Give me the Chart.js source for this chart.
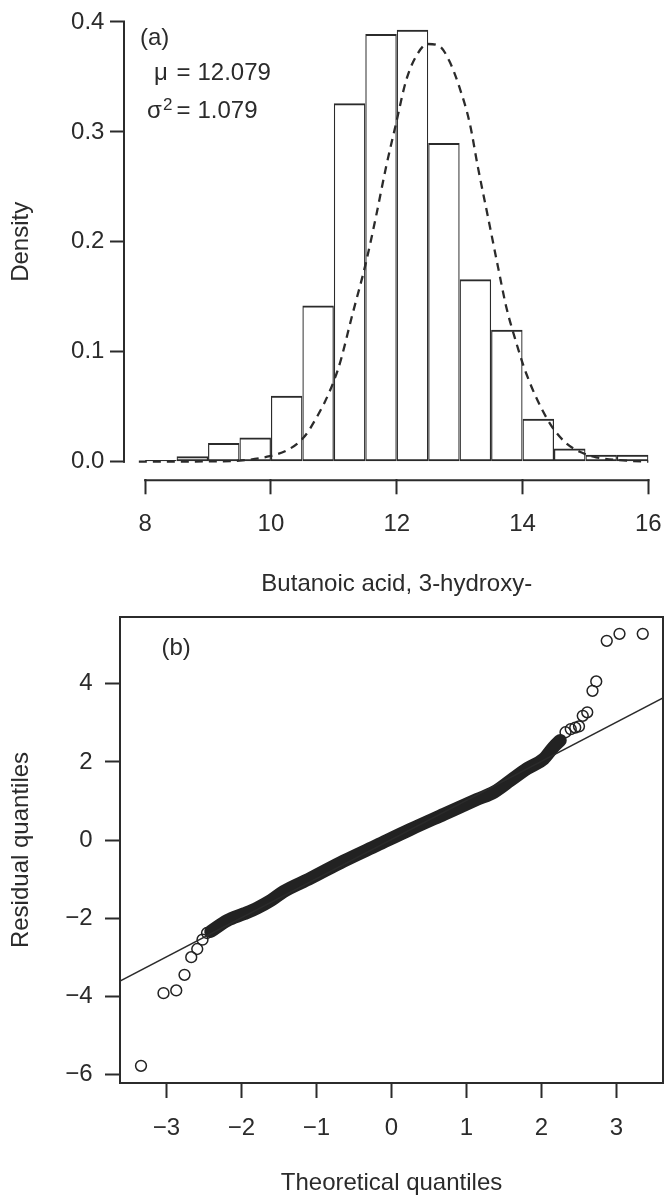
<!DOCTYPE html>
<html>
<head>
<meta charset="utf-8">
<title>Butanoic acid, 3-hydroxy-</title>
<script src="https://cdn.jsdelivr.net/npm/chart.js@4.4.1/dist/chart.umd.min.js"></script>
<style>
  html, body { margin: 0; padding: 0; background: #fff; }
  canvas { position: absolute; left: 0; }
</style>
</head>
<body>
<canvas id="histChart" width="670" height="600" style="top:0"></canvas>
<canvas id="qqChart" width="670" height="598" style="top:600px"></canvas>
<script>
// ---- (a) histogram of Butanoic acid, 3-hydroxy- ----
const binStarts = [8, 8.5, 9, 9.5, 10, 10.5, 11, 11.5, 12, 12.5, 13, 13.5, 14, 14.5, 15, 15.5];
const binWidth = 0.5;
const densities = [0.0015, 0.005, 0.017, 0.022, 0.060, 0.142, 0.326, 0.389, 0.393, 0.290, 0.166, 0.120, 0.039, 0.012, 0.0064, 0.0064];

// dashed fitted density curve
const curveX = [7.9, 8.5, 9.0, 9.5, 9.98, 10.24, 10.45, 10.61, 11.06, 11.30, 11.51, 11.67, 11.83, 11.99, 12.15, 12.31, 12.49,
                12.68, 12.84, 13.00, 13.16, 13.29, 13.47, 13.61, 13.74, 13.87, 14.06, 14.40, 14.67, 14.91, 15.17, 15.65, 16.0];
const curveY = [0, 0, 0.0003, 0.001, 0.005, 0.010, 0.018, 0.029, 0.083, 0.135, 0.181, 0.223, 0.268, 0.308, 0.347, 0.369, 0.380,
                0.378, 0.364, 0.340, 0.308, 0.268, 0.217, 0.177, 0.141, 0.114, 0.080, 0.038, 0.018, 0.009, 0.004, 0.001, 0];

const histXTicks = [8, 10, 12, 14, 16];
const histYTicks = [0, 0.1, 0.2, 0.3, 0.4];
const muText = '12.079';
const sigma2Text = '1.079';

// ---- (b) normal QQ plot of residuals ----
// dense middle of the sample, drawn as one heavy stroke
const bandX = [-2.41, -2.19, -1.97, -1.79, -1.61, -1.44, -1.08, -0.64, -0.19, 0.25, 0.70, 1.14, 1.37, 1.59, 1.81, 2.03, 2.16, 2.25];
const bandY = [-2.34, -2.06, -1.89, -1.74, -1.55, -1.32, -0.98, -0.54, -0.13, 0.27, 0.66, 1.04, 1.23, 1.53, 1.83, 2.08, 2.38, 2.55];
// separate points in both tails
const tailX = [-3.34, -3.04, -2.87, -2.76, -2.67, -2.59, -2.52, -2.46, 2.32, 2.39, 2.45, 2.50, 2.55, 2.61, 2.68, 2.73, 2.87, 3.04, 3.35];
const tailY = [-5.78, -3.92, -3.85, -3.45, -3.00, -2.79, -2.55, -2.38, 2.76, 2.84, 2.88, 2.91, 3.18, 3.27, 3.82, 4.06, 5.10, 5.28, 5.28];
// reference line
const qqLineX = [-3.62, 3.62];
const qqLineY = [-3.61, 3.64];

const qqXTicks = [-3, -2, -1, 0, 1, 2, 3];
const qqYTicks = [-6, -4, -2, 0, 2, 4];

// ---- shared look ----
const INK = '#2b2b2b';
const FONT = '"Liberation Sans", Arial, Helvetica, sans-serif';
Chart.defaults.font.family = FONT;
Chart.defaults.font.size = 24;
Chart.defaults.color = INK;
Chart.defaults.animation = false;
Chart.defaults.plugins.legend.display = false;
Chart.defaults.plugins.tooltip.enabled = false;

const minus = v => (v < 0 ? '\u2212' + Math.abs(v) : String(v));
const useTicks = values => scale => { scale.ticks = values.map(v => ({ value: v })); };
// fixed axis box size, no extra label overhang padding
const fixSize = (prop, px) => scale => {
  scale[prop] = px;
  scale.paddingTop = scale.paddingBottom = scale.paddingLeft = scale.paddingRight = 0;
};

function axisOpts(extra) {
  return Object.assign({
    type: 'linear',
    offset: false,
    border: { display: false },
    grid: { display: true, offset: false, drawOnChartArea: false, drawTicks: true, tickLength: 15, tickWidth: 2, tickColor: INK },
  }, extra);
}

// axis lines running only between the outer ticks
const histAxes = {
  id: 'histAxes',
  afterDraw(chart) {
    const { ctx, chartArea, scales: { x, y } } = chart;
    ctx.save();
    ctx.strokeStyle = INK;
    ctx.lineWidth = 2;
    ctx.beginPath();
    ctx.moveTo(x.getPixelForValue(histXTicks[0]) - 1, chartArea.bottom + 1);
    ctx.lineTo(x.getPixelForValue(histXTicks[histXTicks.length - 1]) + 1, chartArea.bottom + 1);
    ctx.moveTo(chartArea.left - 1, y.getPixelForValue(histYTicks[0]) + 1);
    ctx.lineTo(chartArea.left - 1, y.getPixelForValue(histYTicks[histYTicks.length - 1]) - 1);
    ctx.stroke();

    ctx.fillStyle = INK;
    ctx.textBaseline = 'alphabetic';
    ctx.textAlign = 'left';
    ctx.font = '24px ' + FONT;
    ctx.fillText('(a)', 140, 45);
    ctx.fillText('\u03bc', 154, 80);
    ctx.fillText('=', 176.5, 80);
    ctx.fillText(muText, 197.5, 80);
    ctx.fillText('\u03c3', 147, 118);
    ctx.fillText('=', 176.5, 118);
    ctx.fillText(sigma2Text, 197.5, 118);
    ctx.font = '17px ' + FONT;
    ctx.fillText('2', 163, 110);
    ctx.restore();
  }
};

const qqFrame = {
  id: 'qqFrame',
  afterDraw(chart) {
    const { ctx, chartArea: a } = chart;
    ctx.save();
    ctx.strokeStyle = INK;
    ctx.lineWidth = 2;
    ctx.strokeRect(a.left, a.top, a.right - a.left, a.bottom - a.top);
    ctx.fillStyle = INK;
    ctx.font = '24px ' + FONT;
    ctx.textBaseline = 'alphabetic';
    ctx.fillText('(b)', 161.5, 55);
    ctx.restore();
  }
};

new Chart(document.getElementById('histChart'), {
  type: 'bar',
  data: {
    datasets: [
      {
        type: 'line',
        data: curveX.map((x, i) => ({ x, y: curveY[i] })),
        borderColor: INK,
        borderWidth: 2.3,
        borderDash: [8, 6],
        cubicInterpolationMode: 'monotone',
        pointRadius: 0,
        fill: false,
        order: 1
      },
      {
        type: 'bar',
        data: binStarts.map((s, i) => ({ x: s + binWidth / 2, y: densities[i] })),
        backgroundColor: 'rgba(0,0,0,0)',
        borderColor: INK,
        borderWidth: { top: 2, left: 1.2, right: 1.2, bottom: 2 },
        borderSkipped: false,
        inflateAmount: 0,
        barPercentage: 1,
        categoryPercentage: 1,
        order: 2
      }
    ]
  },
  options: {
    responsive: false,
    devicePixelRatio: 1,
    layout: { padding: { top: 4.4, right: 1.5, left: 0, bottom: 0 } },
    scales: {
      x: axisOpts({
        min: 7.68, max: 16.32,
        ticks: { padding: 15.5, autoSkip: false, maxRotation: 0 },
        title: { display: true, text: 'Butanoic acid, 3-hydroxy-', padding: { top: 0, bottom: 1.6 } },
        afterBuildTicks: useTicks(histXTicks),
        afterFit: fixSize('height', 120.7)
      }),
      y: axisOpts({
        min: -0.016, max: 0.416,
        ticks: { padding: 5.6, callback: v => v.toFixed(1) },
        title: { display: true, text: 'Density', padding: { top: 7, bottom: 0 } },
        afterBuildTicks: useTicks(histYTicks),
        afterFit: fixSize('width', 125)
      })
    }
  },
  plugins: [histAxes]
});

new Chart(document.getElementById('qqChart'), {
  type: 'scatter',
  data: {
    datasets: [
      {
        type: 'line',
        data: qqLineX.map((x, i) => ({ x, y: qqLineY[i] })),
        borderColor: INK,
        borderWidth: 1.4,
        pointRadius: 0,
        fill: false
      },
      {
        type: 'line',
        data: bandX.map((x, i) => ({ x, y: bandY[i] })),
        borderColor: '#222',
        borderWidth: 13,
        borderCapStyle: 'round',
        borderJoinStyle: 'round',
        cubicInterpolationMode: 'monotone',
        pointRadius: 0,
        fill: false
      },
      {
        data: tailX.map((x, i) => ({ x, y: tailY[i] })),
        pointRadius: 5.4,
        pointBorderWidth: 1.5,
        pointBorderColor: '#222',
        pointBackgroundColor: 'rgba(0,0,0,0)',
        showLine: false
      }
    ]
  },
  options: {
    responsive: false,
    devicePixelRatio: 1,
    layout: { padding: { top: 17, right: 7, left: 0, bottom: 0 } },
    scales: {
      x: axisOpts({
        min: -3.62, max: 3.62,
        ticks: { padding: 15.5, autoSkip: false, maxRotation: 0, callback: minus },
        title: { display: true, text: 'Theoretical quantiles', padding: { top: 0, bottom: 0 } },
        afterBuildTicks: useTicks(qqXTicks),
        afterFit: fixSize('height', 115)
      }),
      y: axisOpts({
        min: -6.22, max: 5.71,
        ticks: { padding: 12.3, callback: minus },
        title: { display: true, text: 'Residual quantiles', padding: { top: 6.6, bottom: 0 } },
        afterBuildTicks: useTicks(qqYTicks),
        afterFit: fixSize('width', 120)
      })
    }
  },
  plugins: [qqFrame]
});
</script>
</body>
</html>
